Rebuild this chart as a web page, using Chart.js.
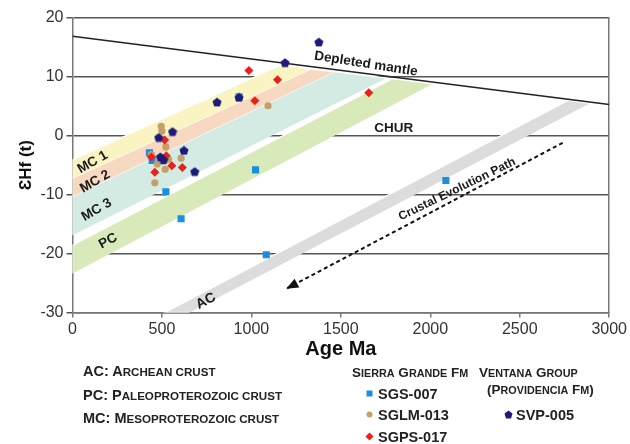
<!DOCTYPE html>
<html>
<head>
<meta charset="utf-8">
<script src="https://cdn.jsdelivr.net/npm/chart.js@4.4.0/dist/chart.umd.min.js"></script>
<style>
html, body { margin: 0; padding: 0; background: #fff; }
#wrap { position: relative; width: 630px; height: 444px; overflow: hidden; }
#c { position: absolute; left: 0; top: 0; }
.lg { position: absolute; font-family: 'Liberation Sans', Arial, sans-serif; font-weight: bold;
      color: #222; font-size: 14.5px; white-space: nowrap; line-height: 1; }
.lg .s { font-size: 0.8em; }
.hd { font-size: 13.5px; }
.mk { position: absolute; }
</style>
</head>
<body>
<div id="wrap">
  <canvas id="c" width="630" height="444"></canvas>
  <div class="lg" style="left:83px;top:364px">AC: A<span class="s">RCHEAN CRUST</span></div>
  <div class="lg" style="left:83px;top:388px">PC: P<span class="s">ALEOPROTEROZOIC CRUST</span></div>
  <div class="lg" style="left:83px;top:411px">MC: M<span class="s">ESOPROTEROZOIC CRUST</span></div>
  <div class="lg hd" style="left:352px;top:366px">S<span class="s">IERRA</span> G<span class="s">RANDE</span> F<span class="s">M</span></div>
  <div class="lg hd" style="left:479px;top:366px">V<span class="s">ENTANA</span> G<span class="s">ROUP</span></div>
  <div class="lg hd" style="left:487px;top:383px">(P<span class="s">ROVIDENCIA</span> F<span class="s">M</span>)</div>
  <svg class="mk" style="left:366px;top:390px" width="7" height="7"><rect x="0.5" y="0.5" width="6" height="6" fill="#1b8ee0"/></svg>
  <div class="lg" style="left:378px;top:387px">SGS-007</div>
  <svg class="mk" style="left:366px;top:411px" width="7" height="7"><circle cx="3.5" cy="3.5" r="3" fill="#c4a068"/></svg>
  <div class="lg" style="left:378px;top:408px">SGLM-013</div>
  <svg class="mk" style="left:365px;top:432px" width="9" height="9"><polygon points="4.5,0.5 8.5,4.5 4.5,8.5 0.5,4.5" fill="#e8211c"/></svg>
  <div class="lg" style="left:378px;top:430px">SGPS-017</div>
  <svg class="mk" style="left:504px;top:410px" width="9" height="9"><polygon points="4.5,0.5 8.5,3.5 7,8.5 2,8.5 0.5,3.5" fill="#1d1a78"/></svg>
  <div class="lg" style="left:516px;top:408px">SVP-005</div>
</div>
<script>
// sample data (Age Ma, epsilon Hf)
var sgsAge = [430, 445, 522, 607, 931, 1023, 1083, 2087];
var sgsHf = [-2.9, -4.2, -9.5, -14.1, 6.6, -5.8, -20.2, -7.6];
var sglmAge = [496, 500, 522, 441, 537, 607, 474, 518, 460, 1093];
var sglmHf = [1.6, 0.8, -1.9, -3.2, -4.0, -3.8, -4.8, -5.7, -8.0, 5.1];
var sgpsAge = [441, 460, 515, 524, 555, 614, 986, 1019, 1146, 1656];
var sgpsHf = [-3.6, -6.2, -0.7, -3.4, -5.1, -5.4, 11.1, 5.95, 9.5, 7.3];
var svpAge = [482, 491, 509, 559, 623, 683, 808, 931, 1188, 1377];
var svpHf = [-0.3, -3.6, -4.1, 0.7, -2.5, -6.1, 5.7, 6.5, 12.4, 15.9];

// reference curves
var dmAge = [0, 3000];
var dmHf = [16.9, 5.3];
var pathAge = [2740, 1200];
var pathHf = [-1.2, -25.9];

// crust bands, corners (Age Ma, eHf)
var mc1Age = [0, 0, 1171, 1332];
var mc1Hf = [-7.2, -4.1, 12.1, 11.3];
var mc2Age = [0, 0, 1332, 1464];
var mc2Hf = [-10.3, -7.2, 11.3, 10.9];
var mc3Age = [0, 0, 1464, 1757];
var mc3Hf = [-16.9, -10.3, 10.9, 9.8];
var pcAge = [0, 0, 1790, 2013];
var pcHf = [-23.4, -18.6, 9.7, 8.8];
var acAge = [654, 518, 2770, 2890];
var acHf = [-30, -30, 6.0, 5.5];

// labels on the plot
var noteText = ['Depleted mantle', 'CHUR', 'MC 1', 'MC 2', 'MC 3', 'PC', 'AC', 'Crustal Evolution Path'];
var noteAge = [1640, 1795, 113, 126, 135, 199, 746, 2150];
var noteHf = [12.2, 1.3, -4.5, -7.8, -12.6, -17.9, -28.1, -9.1];
var noteAngle = [9, 0, -30, -30, -30, -28, -28, -26];
var noteSize = [13.5, 13.5, 13.5, 13.5, 13.5, 13.5, 14, 12];

var FONT = "'Liberation Sans', Arial, sans-serif";

function pts(xs, ys) {
    return xs.map(function (x, i) { return {x: x, y: ys[i]}; });
}

function band(xs, ys, color) {
    return {
        data: pts(xs, ys), showLine: true, fill: 'shape', backgroundColor: color,
        borderColor: '#ffffff', borderWidth: 1.2, pointRadius: 0, order: 10
    };
}

// pentagon marker
var penta = document.createElement('canvas');
penta.width = 10; penta.height = 10;
(function () {
    var g = penta.getContext('2d');
    g.fillStyle = '#1d1a78';
    g.beginPath();
    for (var i = 0; i < 5; i++) {
        var a = -Math.PI / 2 + i * 2 * Math.PI / 5;
        var px = 5 + 4.8 * Math.cos(a), py = 5.4 + 4.8 * Math.sin(a);
        if (i == 0) g.moveTo(px, py); else g.lineTo(px, py);
    }
    g.closePath();
    g.fill();
})();

var notesPlugin = {
    id: 'notes',
    afterDatasetsDraw: function (chart) {
        var ctx = chart.ctx, xs = chart.scales.x, ys = chart.scales.y;
        ctx.save();
        // arrow head at end of crustal path
        var meta = chart.getDatasetMeta(5);
        var p0 = meta.data[0], p1 = meta.data[1];
        var ang = Math.atan2(p1.y - p0.y, p1.x - p0.x);
        ctx.translate(p1.x, p1.y);
        ctx.rotate(ang);
        ctx.fillStyle = '#111';
        ctx.beginPath();
        ctx.moveTo(1, 0);
        ctx.lineTo(-11, -5);
        ctx.lineTo(-11, 5);
        ctx.closePath();
        ctx.fill();
        ctx.restore();

        for (var i = 0; i < noteText.length; i++) {
            ctx.save();
            ctx.translate(xs.getPixelForValue(noteAge[i]), ys.getPixelForValue(noteHf[i]));
            ctx.rotate(noteAngle[i] * Math.PI / 180);
            ctx.font = 'bold ' + noteSize[i] + 'px ' + FONT;
            ctx.fillStyle = '#1a1a1a';
            ctx.textAlign = 'center';
            ctx.textBaseline = 'middle';
            ctx.fillText(noteText[i], 0, 0);
            ctx.restore();
        }
    }
};

var chart = new Chart(document.getElementById('c'), {
    type: 'scatter',
    data: {
        datasets: [
            {label: 'SGS-007', data: pts(sgsAge, sgsHf), pointStyle: 'rect', pointRadius: 5,
             backgroundColor: '#1b8ee0', borderWidth: 0, order: 3},
            {label: 'SGLM-013', data: pts(sglmAge, sglmHf), pointStyle: 'circle', pointRadius: 3.6,
             backgroundColor: '#c4a068', borderWidth: 0, order: 2},
            {label: 'SGPS-017', data: pts(sgpsAge, sgpsHf), pointStyle: 'rectRot', pointRadius: 4.5,
             backgroundColor: '#e8211c', borderWidth: 0, order: 1},
            {label: 'SVP-005', data: pts(svpAge, svpHf), pointStyle: penta, pointRadius: 5,
             backgroundColor: '#1d1a78', borderWidth: 0, order: 0},
            {label: 'Depleted mantle', data: pts(dmAge, dmHf), showLine: true, borderColor: '#222',
             borderWidth: 1.6, pointRadius: 0, order: 5},
            {label: 'path', data: pts(pathAge, pathHf), showLine: true, borderColor: '#111',
             borderWidth: 2, borderDash: [4, 3], pointRadius: 0, order: 5},
            band(mc1Age, mc1Hf, '#f9f4c2'),
            band(mc2Age, mc2Hf, '#f7d8c0'),
            band(mc3Age, mc3Hf, '#d4ebe3'),
            band(pcAge, pcHf, '#d8eaba'),
            band(acAge, acHf, '#dcdcdc')
        ]
    },
    options: {
        responsive: false,
        animation: false,
        events: [],
        layout: {padding: {left: 16, right: 12.5, top: 18, bottom: 82.6}, autoPadding: false},
        plugins: {legend: {display: false}, tooltip: {enabled: false}},
        scales: {
            x: {
                type: 'linear', min: 0, max: 3000,
                ticks: {stepSize: 500, color: '#333', padding: 3, maxRotation: 0, font: {family: FONT, size: 16},
                        callback: function (v) { return String(v); }},
                grid: {drawOnChartArea: false, drawTicks: true, tickLength: 5, color: '#777', lineWidth: 1.5},
                border: {color: '#777', width: 1.5},
                title: {display: true, text: 'Age Ma', color: '#111', padding: 0,
                        font: {family: FONT, size: 20, weight: 'bold'}},
                afterFit: function (s) { s.height = 49; }
            },
            y: {
                min: -30, max: 20, z: 1,
                ticks: {stepSize: 10, color: '#333', padding: 3, font: {family: FONT, size: 16}},
                grid: {color: '#555', lineWidth: 1.5, tickLength: 6},
                border: {color: '#777', width: 1.5},
                title: {display: true, text: 'ƐHf (t)', color: '#111', padding: 0,
                        font: {family: FONT, size: 17, weight: 'bold'}},
                afterFit: function (s) { s.width = 56.5; }
            },
            y2: {
                position: 'right', min: -30, max: 20,
                ticks: {display: false},
                grid: {drawOnChartArea: false, drawTicks: false},
                border: {color: '#777', width: 1.5},
                afterFit: function (s) { s.width = 0; }
            }
        }
    },
    plugins: [notesPlugin]
});
</script>
</body>
</html>
